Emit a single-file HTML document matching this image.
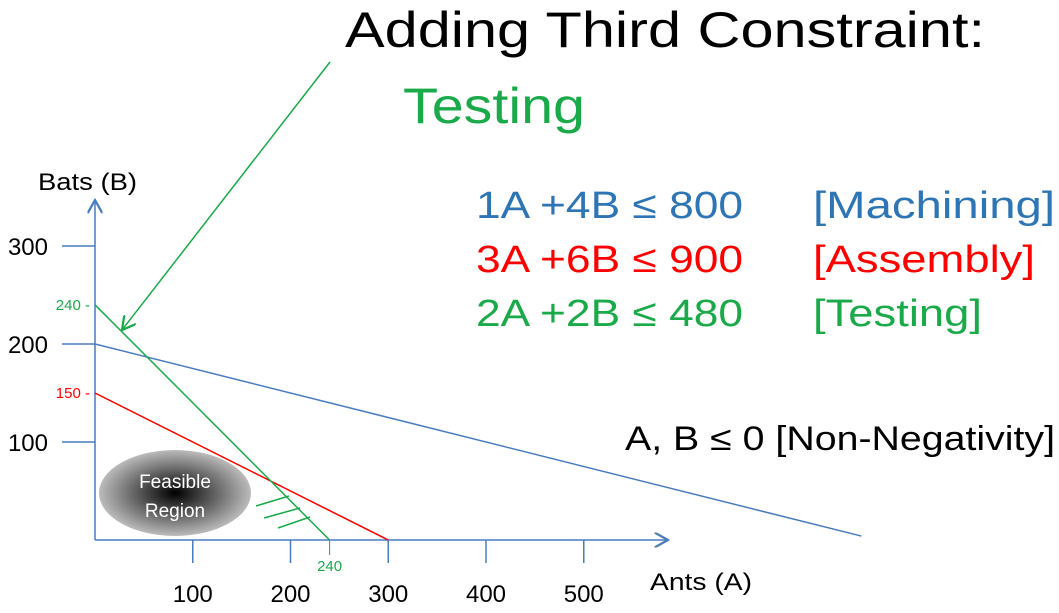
<!DOCTYPE html>
<html><head><meta charset="utf-8"><style>
body{margin:0;background:#fff;width:1059px;height:608px;overflow:hidden;font-family:"Liberation Sans",sans-serif}
</style></head><body>
<svg width="1059" height="608" font-family="Liberation Sans, sans-serif">
<defs>
<radialGradient id="g" cx="50%" cy="50%" r="50%"><stop offset="0" stop-color="#000"/><stop offset="1" stop-color="#bbb"/></radialGradient>
<marker id="ah" markerWidth="10" markerHeight="10" refX="9" refY="5" orient="auto"><path d="M0,0 L9,5 L0,10" fill="none" stroke="#1aaa4a" stroke-width="1.5"/></marker>
<marker id="ab" markerWidth="10" markerHeight="10" refX="9" refY="5" orient="auto"><path d="M0,0 L9,5 L0,10" fill="none" stroke="#4a7cc0" stroke-width="1.5"/></marker>
</defs>
<text x="345" y="47" font-size="50" fill="#000" textLength="640" lengthAdjust="spacingAndGlyphs">Adding Third Constraint:</text>
<text x="403" y="123" font-size="50" fill="#1aaa4a" textLength="182" lengthAdjust="spacingAndGlyphs">Testing</text>
<g font-size="38">
<text x="476" y="218" fill="#2e75b6" textLength="267" lengthAdjust="spacingAndGlyphs">1A +4B ≤ 800</text><text x="813" y="218" fill="#2e75b6" textLength="242" lengthAdjust="spacingAndGlyphs">[Machining]</text>
<text x="476" y="272" fill="#ff0000" textLength="267" lengthAdjust="spacingAndGlyphs">3A +6B ≤ 900</text><text x="813" y="272" fill="#ff0000" textLength="222" lengthAdjust="spacingAndGlyphs">[Assembly]</text>
<text x="476" y="326" fill="#1aaa4a" textLength="267" lengthAdjust="spacingAndGlyphs">2A +2B ≤ 480</text><text x="813" y="326" fill="#1aaa4a" textLength="169" lengthAdjust="spacingAndGlyphs">[Testing]</text>
<text x="625" y="450" fill="#000" font-size="34" textLength="430" lengthAdjust="spacingAndGlyphs">A, B ≤ 0 [Non-Negativity]</text>
</g>
<g id="axes" stroke="#4a7cc0" stroke-width="1.5" fill="none"></g>
<g id="ticks" font-size="24" fill="#000"></g>
<ellipse cx="175" cy="493" rx="76" ry="43" fill="url(#g)"/>
<text x="175" y="488" font-size="19" fill="#fff" text-anchor="middle">Feasible</text>
<text x="175" y="517" font-size="19" fill="#fff" text-anchor="middle">Region</text>
<g id="lines"></g>
<g stroke="#1aaa4a" stroke-width="1.5">
<line x1="256" y1="506" x2="289" y2="496"/><line x1="264" y1="518" x2="300" y2="508"/><line x1="278" y1="528" x2="310" y2="517"/>
</g>
<line x1="330" y1="62" x2="122" y2="330" stroke="#1aaa4a" stroke-width="1.5" marker-end="url(#ah)"/>
<text x="38" y="190" font-size="24" textLength="99" lengthAdjust="spacingAndGlyphs">Bats (B)</text>
<text x="650" y="590" font-size="24" textLength="102" lengthAdjust="spacingAndGlyphs">Ants (A)</text>
</svg>
<script>
const xTicks=[100,200,300,400,500];
const yTicks=[100,200,300];
const lineNames=['machining','assembly','testing'];
const lineA=[800,300,240];
const lineB=[200,150,240];
const lineColors=['#4a7cc0','#ff0000','#1aaa4a'];
const X=v=>95+v*0.9775, Y=v=>540-v*0.98;
const ns='http://www.w3.org/2000/svg';
function mk(p,t,a){const e=document.createElementNS(ns,t);for(const k in a)e.setAttribute(k,a[k]);p.appendChild(e);return e;}
const ax=document.getElementById('axes'),tk=document.getElementById('ticks'),ln=document.getElementById('lines');
let xa=mk(ax,'line',{x1:95,y1:540,x2:668,y2:540,'marker-end':'url(#ab)'});


let ya=mk(ax,'line',{x1:95,y1:540,x2:95,y2:200,'marker-end':'url(#ab)'});


xTicks.forEach(v=>{mk(ax,'line',{x1:X(v),y1:540,x2:X(v),y2:563});
const t=mk(tk,'text',{x:X(v),y:602,'text-anchor':'middle'});t.textContent=v;

});
yTicks.forEach(v=>{mk(ax,'line',{x1:62,y1:Y(v),x2:95,y2:Y(v)});
const t=mk(tk,'text',{x:48,y:Y(v)+9,'text-anchor':'end'});t.textContent=v;

});
lineA.forEach((a,i)=>{const b=lineB[i];const aEnd=i==0?a*0.98:a;
const l=mk(ln,'line',{x1:X(0),y1:Y(b),x2:X(aEnd),y2:Y(b*(1-aEnd/a)),stroke:lineColors[i],'stroke-width':1.5});


if(i>0){const t=mk(ln,'text',{x:90,y:Y(b)+5,'text-anchor':'end','font-size':15,fill:lineColors[i]});t.textContent=b+' -';

}});
const t2=mk(ln,'text',{x:X(lineA[2]),y:571,'text-anchor':'middle','font-size':15,fill:'#1aaa4a'});t2.textContent=lineA[2];


mk(ln,'line',{x1:X(lineA[2]),y1:540,x2:X(lineA[2]),y2:555,stroke:'#1aaa4a'});
</script>
</body></html>
